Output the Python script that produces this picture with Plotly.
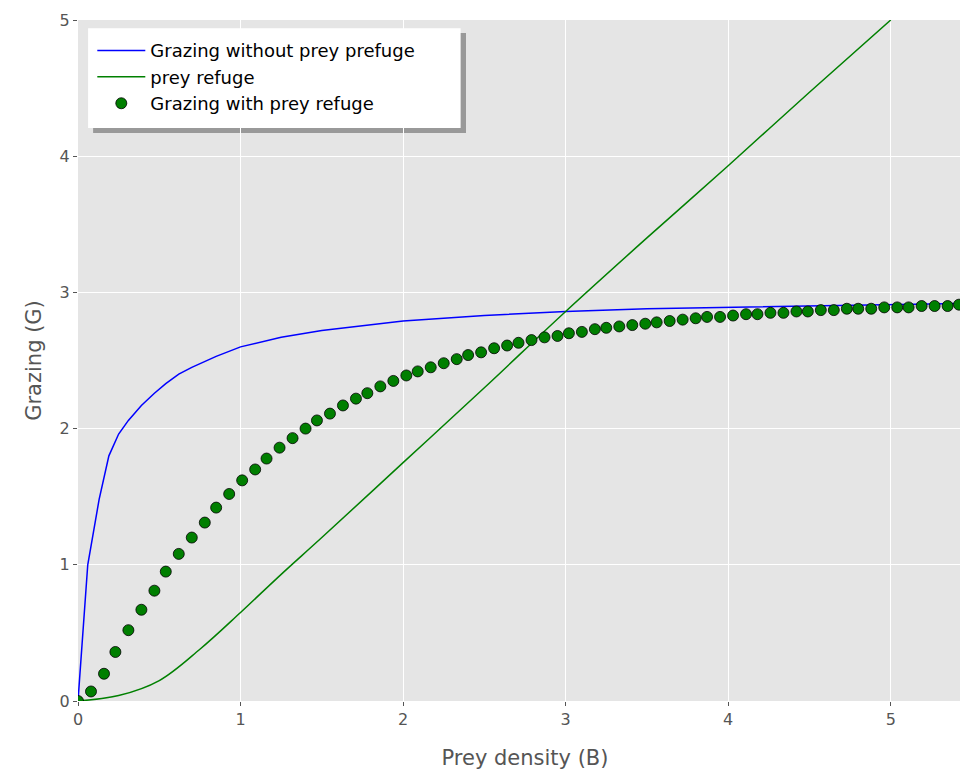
import plotly.graph_objects as go

# Grazing without prey refuge (blue)
blue_x = [0, 0.06, 0.13, 0.19, 0.25, 0.31, 0.39, 0.47, 0.54, 0.62, 0.70, 0.85, 1.0,
          1.25, 1.5, 2.0, 2.5, 3.0, 3.5, 4.0, 4.5, 5.0, 5.5]
blue_y = [0, 1.0, 1.48, 1.8, 1.96, 2.06, 2.17, 2.26, 2.33, 2.40, 2.45, 2.53, 2.6,
          2.67, 2.72, 2.79, 2.83, 2.86, 2.88, 2.89, 2.90, 2.91, 2.92]

# prey refuge (green)
green_x = [0, 0.25, 0.5, 0.75, 1.0, 1.25, 1.5, 2.0, 2.5, 3.0, 3.5, 4.0, 4.5, 5.0]
green_y = [0, 0.04, 0.15, 0.38, 0.65, 0.93, 1.2, 1.75, 2.3, 2.86, 3.4, 3.93, 4.47, 5.0]

# Grazing with prey refuge (dots)
dot_x = [0, 0.08, 0.16, 0.23, 0.31, 0.39, 0.47, 0.54, 0.62, 0.70, 0.78, 0.85, 0.93,
         1.01, 1.09, 1.16, 1.24, 1.32, 1.40, 1.47, 1.55, 1.63, 1.71, 1.78, 1.86, 1.94,
         2.02, 2.09, 2.17, 2.25, 2.33, 2.40, 2.48, 2.56, 2.64, 2.71, 2.79, 2.87, 2.95,
         3.02, 3.10, 3.18, 3.25, 3.33, 3.41, 3.49, 3.56, 3.64, 3.72, 3.80, 3.87, 3.95,
         4.03, 4.11, 4.18, 4.26, 4.34, 4.42, 4.49, 4.57, 4.65, 4.73, 4.80, 4.88, 4.96,
         5.04, 5.11, 5.19, 5.27, 5.35, 5.42, 5.50]
dot_y = [0, 0.07, 0.2, 0.36, 0.52, 0.67, 0.81, 0.95, 1.08, 1.2, 1.31, 1.42, 1.52,
         1.62, 1.7, 1.78, 1.86, 1.93, 2.0, 2.06, 2.11, 2.17, 2.22, 2.26, 2.31, 2.35,
         2.39, 2.42, 2.45, 2.48, 2.51, 2.54, 2.56, 2.59, 2.61, 2.63, 2.65, 2.67, 2.68,
         2.70, 2.71, 2.73, 2.74, 2.75, 2.76, 2.77, 2.78, 2.79, 2.80, 2.81, 2.82, 2.82,
         2.83, 2.84, 2.84, 2.85, 2.85, 2.86, 2.86, 2.87, 2.87, 2.88, 2.88, 2.88, 2.89,
         2.89, 2.89, 2.90, 2.90, 2.90, 2.91, 2.91]

fig = go.Figure()
fig.add_trace(go.Scatter(x=blue_x, y=blue_y, mode='lines', name='Grazing without prey prefuge',
                         line=dict(color='#0000ff', width=1.5)))
fig.add_trace(go.Scatter(x=green_x, y=green_y, mode='lines', name='prey refuge',
                         line=dict(color='#008000', width=1.5), line_shape='spline'))
fig.add_trace(go.Scatter(x=dot_x, y=dot_y, mode='markers', name='Grazing with prey refuge',
                         marker=dict(color='#007f00', size=11, line=dict(color='black', width=0.8))))

axis = dict(tickvals=[0, 1, 2, 3, 4, 5], showgrid=True, gridcolor='white', automargin=False,
            gridwidth=1, zeroline=False, ticks='outside', ticklen=4, tickcolor='#555',
            tickfont=dict(size=16, color='#555'), showline=False)
fig.update_layout(
    width=968, height=778,
    margin=dict(l=70, r=4, t=12, b=85),
    paper_bgcolor='white', plot_bgcolor='#e5e5e5',
    font=dict(family='DejaVu Sans', color='#555'),
    xaxis=dict(axis, range=[0, 5.5], title=dict(text='Prey density (B)', font=dict(size=21), standoff=22)),
    yaxis=dict(axis, range=[0, 5], title=dict(text='Grazing (G)', font=dict(size=21), standoff=12)),
    legend=dict(x=0.016, y=0.982, xanchor='left', yanchor='top', bgcolor='rgba(0,0,0,0)',
                font=dict(size=18, color='black'), itemwidth=48),
    shapes=[
        dict(type='rect', xref='paper', yref='paper', x0=0.0169, x1=0.434, y0=0.834, y1=0.981,
             fillcolor='#999', line=dict(width=0), layer='below'),
        dict(type='rect', xref='paper', yref='paper', x0=0.0113, x1=0.428, y0=0.8414, y1=0.988,
             fillcolor='white', line=dict(width=0), layer='below'),
    ],
)
fig.write_html("out.html")
